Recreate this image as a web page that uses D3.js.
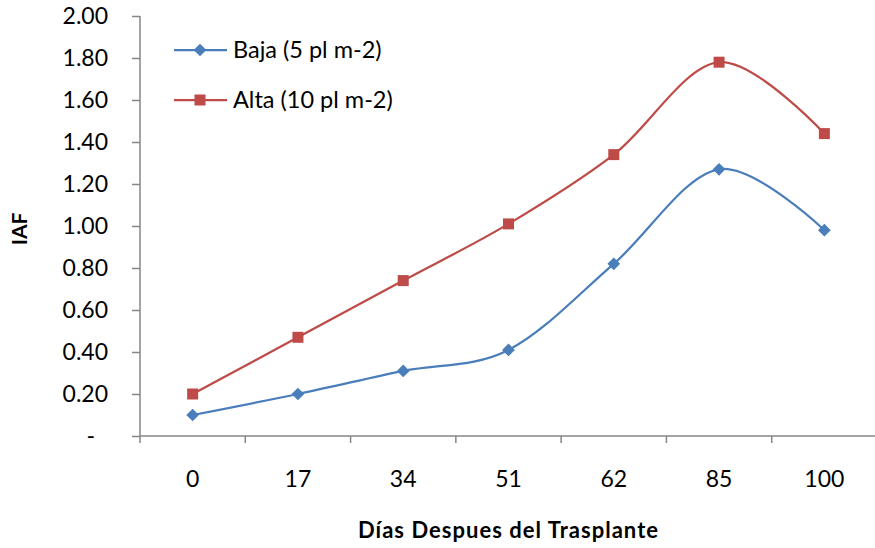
<!DOCTYPE html>
<html><head><meta charset="utf-8">
<script src="https://cdn.jsdelivr.net/npm/d3@7"></script>
<style>body{margin:0;background:#fff}svg{font-family:Lato,"Open Sans",sans-serif}</style>
</head><body><svg id="c" width="875" height="548"></svg>
<script>
const categories = ["0","17","34","51","62","85","100"];
const baja = [0.10,0.20,0.31,0.41,0.82,1.27,0.98];
const alta = [0.20,0.47,0.74,1.01,1.34,1.78,1.44];
const yTicks = [0,0.2,0.4,0.6,0.8,1.0,1.2,1.4,1.6,1.8,2.0];
const seriesNames = ["Baja (5 pl m-2)","Alta (10 pl m-2)"];

const svg = d3.select("#c");
const x = d3.scaleBand().domain(categories).range([140,877]);
const y = d3.scaleLinear().domain([0,2]).range([436,16]);
const axisColor = "#868686";
const fs = "23px";

const yAxis = svg.append("g").attr("transform","translate(140,0)")
  .call(d3.axisLeft(y).tickValues(yTicks).tickSize(8).tickPadding(24)
    .tickFormat(d => d===0 ? "-" : d.toFixed(2)));
yAxis.selectAll(".tick text").filter(d=>d===0).attr("dx",-13);
const xAxis = svg.append("g").attr("transform","translate(0,436)")
  .call(d3.axisBottom(x).tickSize(0).tickPadding(35));
// category boundary ticks
xAxis.selectAll(".bt").data(d3.range(categories.length+1)).enter().append("line")
  .attr("x1",i=>140+i*x.step()).attr("x2",i=>140+i*x.step()).attr("y1",0).attr("y2",7)
  .attr("stroke",axisColor).attr("stroke-width",1.5);
[yAxis,xAxis].forEach(a=>{
  a.select(".domain").attr("stroke",axisColor).attr("stroke-width",1.5);
  a.selectAll(".tick line").attr("stroke",axisColor).attr("stroke-width",1.5);
  a.selectAll("text").attr("fill","#000").style("font-size",fs).style("font-family","Lato,'Open Sans',sans-serif");
});
yAxis.select(".domain").attr("d","M0,16V436");
xAxis.select(".domain").attr("d","M140,0H877");

const cx = d => x(d)+x.bandwidth()/2;
const line = d3.line().x((d,i)=>cx(categories[i])).y(d=>y(d)).curve(d3.curveCatmullRom.alpha(0));
const cols = ["#4A7EBB","#BE4B48"];
[baja,alta].forEach((s,k)=>{
  svg.append("path").attr("d",line(s)).attr("fill","none").attr("stroke",cols[k]).attr("stroke-width",2.25);
});
function marker(g,k,px,py){
  if(k===0){
    g.append("rect").attr("x",px-4.5).attr("y",py-4.5).attr("width",9).attr("height",9)
     .attr("transform",`rotate(45,${px},${py})`).attr("fill",cols[0]);
  } else {
    g.append("rect").attr("x",px-5.5).attr("y",py-5.5).attr("width",11).attr("height",11).attr("fill",cols[1]);
  }
}
[baja,alta].forEach((s,k)=>{
  const g = svg.append("g");
  s.forEach((v,i)=>marker(g,k,cx(categories[i]),y(v)));
});
// legend
seriesNames.forEach((n,k)=>{
  const ly = 50+k*50;
  svg.append("line").attr("x1",174).attr("x2",227).attr("y1",ly).attr("y2",ly).attr("stroke",cols[k]).attr("stroke-width",2.25);
  marker(svg,k,200,ly);
  svg.append("text").attr("x",233).attr("y",ly+8).text(n).style("font-size","23.5px");
});
svg.append("text").attr("transform","translate(27,229) rotate(-90)").attr("text-anchor","middle")
  .style("font-weight","bold").style("font-size","21px").text("IAF");
svg.append("text").attr("x",508).attr("y",538).attr("text-anchor","middle")
  .attr("textLength",300).attr("lengthAdjust","spacing")
  .style("font-weight","bold").style("font-size","22px").text("Días Despues del Trasplante");
</script></body></html>
